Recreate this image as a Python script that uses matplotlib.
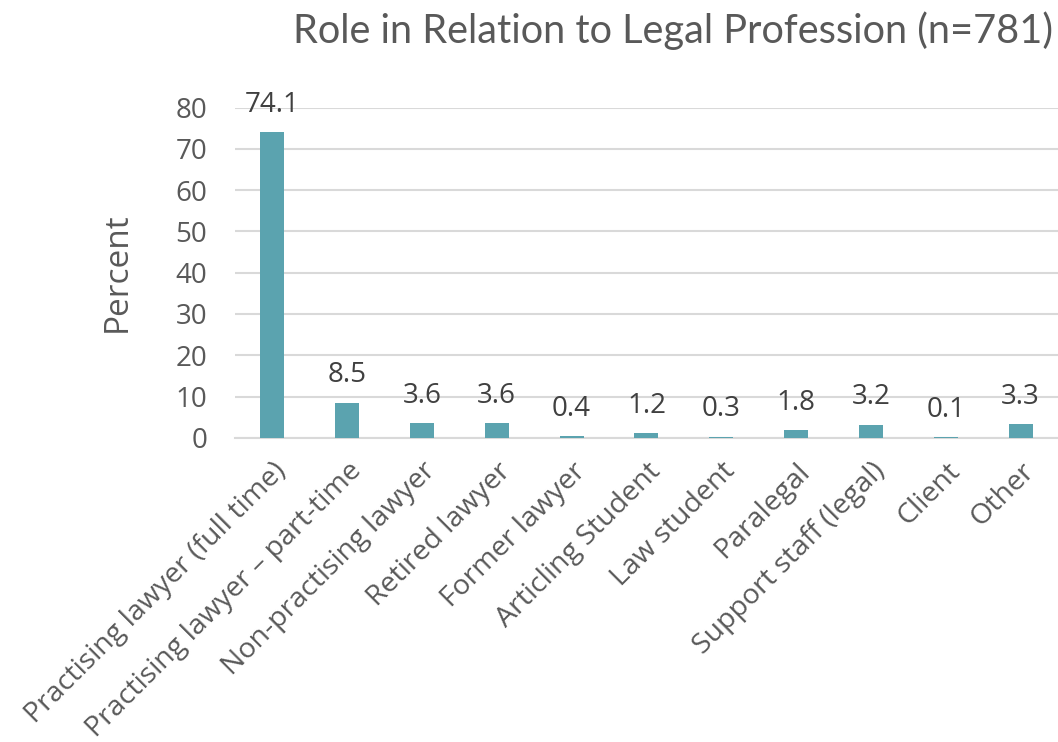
import matplotlib
matplotlib.use("Agg")
import matplotlib.pyplot as plt

categories = [
    "Practising lawyer (full time)",
    "Practising lawyer \u2013 part-time",
    "Non-practising lawyer",
    "Retired lawyer",
    "Former lawyer",
    "Articling Student",
    "Law student",
    "Paralegal",
    "Support staff (legal)",
    "Client",
    "Other",
]
percent = [74.1, 8.5, 3.6, 3.6, 0.4, 1.2, 0.3, 1.8, 3.2, 0.1, 3.3]
yticks = [0, 10, 20, 30, 40, 50, 60, 70, 80]

plt.rcParams["font.family"] = ["Open Sans", "DejaVu Sans"]

fig = plt.figure(figsize=(10.58, 7.42), dpi=100)
ax = fig.add_axes([0.222, 0.41, 0.778, 0.445])

x = list(range(len(categories)))
ax.bar(x, percent, width=0.32, color="#5BA3AF", zorder=3)

for xi, v in zip(x, percent):
    ax.text(xi, v + 3.2, f"{v:.1f}", ha="center", va="bottom",
            fontsize=20, color="#404040")

ax.set_xlim(-0.5, len(categories) - 0.5)
ax.set_ylim(0, 80)
ax.set_yticks(yticks)
ax.tick_params(axis="y", labelsize=20, colors="#595959", length=0, pad=20)
ax.set_xticks(x)
ax.set_xticklabels(categories, rotation=45, ha="right", rotation_mode="anchor",
                   fontsize=20.5, color="#595959")
ax.tick_params(axis="x", length=0, pad=14)

ax.yaxis.grid(True, color="#D9D9D9", linewidth=1.5, zorder=0)
for s in ["top", "right", "left"]:
    ax.spines[s].set_visible(False)
ax.spines["bottom"].set_color("#D9D9D9")
ax.spines["bottom"].set_linewidth(1.5)

ax.set_ylabel("Percent", fontsize=24, color="#595959", labelpad=30)

fig.text(0.995, 0.958, "Role in Relation to Legal Profession (n=781)",
         ha="right", va="center", fontsize=28.6, color="#595959",
         family=["Lato", "DejaVu Sans"], fontweight="normal")

fig.savefig("out.png", dpi=100)
